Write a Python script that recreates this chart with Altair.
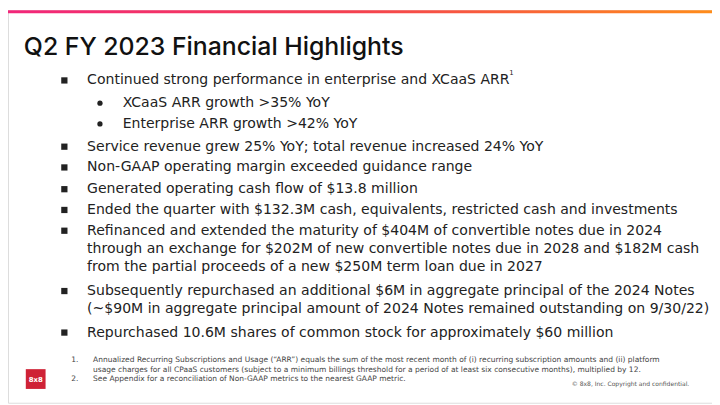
import altair as alt
import pandas as pd

# ---------------- content ----------------
title_text = "Q2 FY 2023 Financial Highlights"

main_bullets = [
    ["Continued strong performance in enterprise and XCaaS ARR"],
    ["Service revenue grew 25% YoY; total revenue increased 24% YoY"],
    ["Non-GAAP operating margin exceeded guidance range"],
    ["Generated operating cash flow of $13.8 million"],
    ["Ended the quarter with $132.3M cash, equivalents, restricted cash and investments"],
    ["Refinanced and extended the maturity of $404M of convertible notes due in 2024",
     "through an exchange for $202M of new convertible notes due in 2028 and $182M cash",
     "from the partial proceeds of a new $250M term loan due in 2027"],
    ["Subsequently repurchased an additional $6M in aggregate principal of the 2024 Notes",
     "(~$90M in aggregate principal amount of 2024 Notes remained outstanding on 9/30/22)"],
    ["Repurchased 10.6M shares of common stock for approximately $60 million"],
]
sub_bullets = [
    "XCaaS ARR growth >35% YoY",
    "Enterprise ARR growth >42% YoY",
]
footnote_numbers = ["1.", "2."]
footnotes = [
    ["Annualized Recurring Subscriptions and Usage (\u201cARR\u201d) equals the sum of the most recent month of (i) recurring subscription amounts and (ii) platform",
     "usage charges for all CPaaS customers (subject to a minimum billings threshold for a period of at least six consecutive months), multiplied by 12."],
    ["See Appendix for a reconciliation of Non-GAAP metrics to the nearest GAAP metric."],
]
superscript = "1"
logo_text = "8x8"
copyright_text = "\u00a9 8x8, Inc. Copyright and confidential."

# ---------------- layout (slide coordinates, px) ----------------
W, H, M = 720, 405, 8
main_y = [[79], [146], [167], [189], [210], [231, 250, 268], [292, 310], [334]]
sub_y = [102, 123]
foot_y = [[362, 372], [381]]

FONT = "DejaVu Sans"
TEXT_COLOR = "#222222"

rows = []
bul = []
for lines, ys in zip(main_bullets, main_y):
    bul.append({"x": 65, "y": ys[0], "shape": "square"})
    for t, y in zip(lines, ys):
        rows.append({"x": 88, "y": y, "text": t})
for t, y in zip(sub_bullets, sub_y):
    bul.append({"x": 101, "y": y, "shape": "circle"})
    rows.append({"x": 124, "y": y, "text": t})
body_df = pd.DataFrame(rows)
bul_df = pd.DataFrame(bul)

foot_rows = []
for num, lines, ys in zip(footnote_numbers, footnotes, foot_y):
    foot_rows.append({"x": 72, "y": ys[0], "text": num})
    for t, y in zip(lines, ys):
        foot_rows.append({"x": 94, "y": y, "text": t})
foot_df = pd.DataFrame(foot_rows)

xs = alt.Scale(domain=[M, W], range=[0, W - M])
ys_ = alt.Scale(domain=[M, H], range=[0, H - M])
X = lambda f="x": alt.X(f"{f}:Q", scale=xs, axis=None)
Y = lambda f="y": alt.Y(f"{f}:Q", scale=ys_, axis=None)

bar = alt.Chart(pd.DataFrame({"x": [M], "x2": [W], "y": [M], "y2": [M + 3]})).mark_rect(
    color=alt.Gradient(gradient="linear", x1=0, x2=1, y1=0, y2=0,
                       stops=[alt.GradientStop(color="#f2267a", offset=0),
                              alt.GradientStop(color="#f5424f", offset=0.5),
                              alt.GradientStop(color="#ff8c1a", offset=1)])
).encode(x=X(), x2="x2:Q", y=Y(), y2="y2:Q")

title = alt.Chart(pd.DataFrame({"x": [24], "y": [45], "text": [title_text]})).mark_text(
    align="left", baseline="middle", font="Inter", fontSize=25.1, fontWeight=500, color="#111111"
).encode(x=X(), y=Y(), text="text:N")

body = alt.Chart(body_df).mark_text(
    align="left", baseline="middle", font=FONT, fontSize=14.2, color=TEXT_COLOR
).encode(x=X(), y=Y(), text="text:N")

sq = alt.Chart(bul_df[bul_df["shape"] == "square"]).mark_point(
    shape="square", filled=True, size=40, color=TEXT_COLOR, opacity=1
).encode(x=X(), y=Y())
dots = alt.Chart(bul_df[bul_df["shape"] == "circle"]).mark_point(
    shape="circle", filled=True, size=28, color=TEXT_COLOR, opacity=1
).encode(x=X(), y=Y())

sup = alt.Chart(pd.DataFrame({"x": [515], "y": [72], "text": [superscript]})).mark_text(
    align="left", baseline="middle", font=FONT, fontSize=7, color=TEXT_COLOR
).encode(x=X(), y=Y(), text="text:N")

foot = alt.Chart(foot_df).mark_text(
    align="left", baseline="middle", font=FONT, fontSize=7.6, color="#444444"
).encode(x=X(), y=Y(), text="text:N")

logo = alt.Chart(pd.DataFrame({"x": [26], "x2": [46], "y": [371], "y2": [391]})).mark_rect(
    color="#cf2236"
).encode(x=X(), x2="x2:Q", y=Y(), y2="y2:Q")
logo_t = alt.Chart(pd.DataFrame({"x": [36], "y": [381.5], "text": [logo_text]})).mark_text(
    align="center", baseline="middle", font=FONT, fontSize=7, fontWeight="bold", color="white"
).encode(x=X(), y=Y(), text="text:N")

copy_t = alt.Chart(pd.DataFrame({"x": [697], "y": [386], "text": [copyright_text]})).mark_text(
    align="right", baseline="middle", font=FONT, fontSize=6.1, color="#555555"
).encode(x=X(), y=Y(), text="text:N")

chart = alt.layer(bar, title, body, sq, dots, sup, foot, logo, logo_t, copy_t).properties(
    width=W - M, height=H - M, padding=0, autosize=alt.AutoSizeParams(type="none")
).configure_view(stroke=None).configure(background="white")

chart.save("out.html", embed_options={"renderer": "svg", "actions": False})
